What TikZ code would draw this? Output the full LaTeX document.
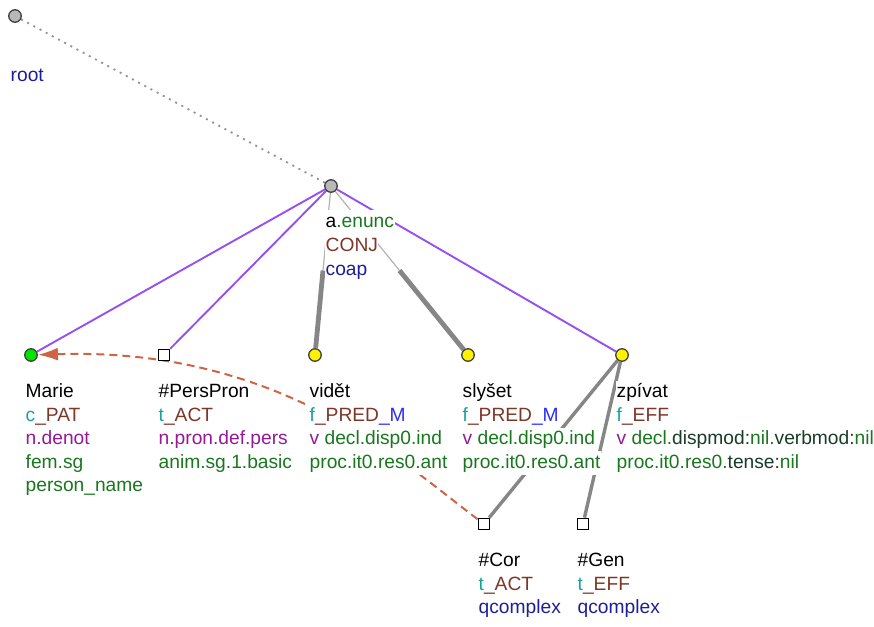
\documentclass[tikz,border=0pt]{standalone}
\usepackage{fontspec}
\setmainfont{Liberation Sans}
\usepackage{tikz}
\usetikzlibrary{arrows.meta,calc,backgrounds}
\usepackage{xcolor}
\definecolor{tfacol}{RGB}{25,160,160}
\definecolor{funccol}{RGB}{125,55,40}
\definecolor{semcol}{RGB}{150,25,150}
\definecolor{gramcol}{RGB}{25,120,30}
\definecolor{darkgram}{RGB}{25,60,40}
\definecolor{typecol}{RGB}{30,30,150}
\definecolor{mcol}{RGB}{45,45,245}
\definecolor{membcol}{RGB}{150,80,240}
\definecolor{corefcol}{RGB}{205,100,70}

\begin{document}
\begin{tikzpicture}[
    x=1pt, y=-1pt,
    font=\fontsize{19.2}{23.5}\selectfont,
    >={Latex[length=20pt,width=13pt]},
    gnode/.style={circle, draw=black!75, line width=1.3pt, fill=gray!55, minimum size=12.5pt, inner sep=0pt},
    ynode/.style={gnode, fill=yellow},
    sqnode/.style={rectangle, draw=black, line width=1.3pt, fill=white, minimum size=11.5pt, inner sep=0pt},
    lbl/.style={fill=white, inner xsep=0.5pt, inner ysep=1.75pt, text height=15pt, text depth=5pt, anchor=base west},
    rootedge/.style={gray!85, line width=1.8pt, dash pattern=on 2pt off 5pt},
    memb/.style={membcol, line width=1.9pt},
    conjthin/.style={gray!60, line width=1.2pt},
    conjthick/.style={gray!95, line width=4.8pt},
    dep/.style={gray!95, line width=3.4pt},
    coref/.style={->, corefcol, line width=2pt, dash pattern=on 8pt off 5pt},
  ]
    \useasboundingbox (0,0) rectangle (874,626);

    \node[gnode] (root) at (15,16) {};
    \node[gnode] (coap) at (331,186) {};
    \node[gnode, fill=green!90!black] (marie) at (31,355) {};
    \node[sqnode] (perspron) at (164,355) {};
    \node[ynode] (videt) at (315,355) {};
    \node[ynode] (slyset) at (468,355) {};
    \node[ynode] (zpivat) at (622,355) {};
    \node[sqnode] (cor) at (484,524) {};
    \node[sqnode] (gen) at (583,524) {};

    \coordinate (videtmid) at ($(coap)!0.5!(videt)$);
    \coordinate (slysetmid) at ($(coap)!0.5!(slyset)$);

    \begin{scope}[on background layer]
      \draw[rootedge] (root) -- (coap);
      \draw[memb] (coap) -- (marie);
      \draw[memb] (coap) -- (perspron);
      \draw[memb] (coap) -- (zpivat);
      \draw[conjthin] (coap) -- (videtmid);
      \draw[conjthick] (videtmid) -- (videt);
      \draw[conjthin] (coap) -- (slysetmid);
      \draw[conjthick] (slysetmid) -- (slyset);
      \draw[dep] (zpivat) -- (cor);
      \draw[dep] (zpivat) -- (gen);
      \draw[coref] (cor) .. controls +(-80,-60) and +(250,-8) .. (marie);
    \end{scope}

    \node[lbl] (root-l1) at (10,81) {\color{typecol}root};

    \node[lbl] (coap-l1) at ([shift={(-6,41)}]coap) {a{\color{gramcol}.enunc}};
    \node[lbl] (coap-l2) at ([yshift=-24pt]coap-l1.base west) {\color{funccol}CONJ};
    \node[lbl] (coap-l3) at ([yshift=-24pt]coap-l2.base west) {\color{typecol}coap};

    \node[lbl] (marie-l1) at ([shift={(-6,42.7)}]marie) {Marie};
    \node[lbl] (marie-l2) at ([yshift=-23.5pt]marie-l1.base west) {{\color{tfacol}c}{\color{funccol}\_PAT}};
    \node[lbl] (marie-l3) at ([yshift=-23.5pt]marie-l2.base west) {\color{semcol}n.denot};
    \node[lbl] (marie-l4) at ([yshift=-23.5pt]marie-l3.base west) {\color{gramcol}fem.sg};
    \node[lbl] (marie-l5) at ([yshift=-23.5pt]marie-l4.base west) {\color{gramcol}person\_name};

    \node[lbl] (perspron-l1) at ([shift={(-6,42.7)}]perspron) {\#PersPron};
    \node[lbl] (perspron-l2) at ([yshift=-23.5pt]perspron-l1.base west) {{\color{tfacol}t}{\color{funccol}\_ACT}};
    \node[lbl] (perspron-l3) at ([yshift=-23.5pt]perspron-l2.base west) {\color{semcol}n.pron.def.pers};
    \node[lbl] (perspron-l4) at ([yshift=-23.5pt]perspron-l3.base west) {\color{gramcol}anim.sg.1.basic};

    \node[lbl] (videt-l1) at ([shift={(-6,42.7)}]videt) {vidět};
    \node[lbl] (videt-l2) at ([yshift=-23.5pt]videt-l1.base west) {{\color{tfacol}f}{\color{funccol}\_PRED}{\color{mcol}\_M}};
    \node[lbl] (videt-l3) at ([yshift=-23.5pt]videt-l2.base west) {{\color{semcol}v} {\color{gramcol}decl.disp0.ind}};
    \node[lbl] (videt-l4) at ([yshift=-23.5pt]videt-l3.base west) {\color{gramcol}proc.it0.res0.ant};

    \node[lbl] (slyset-l1) at ([shift={(-6,42.7)}]slyset) {slyšet};
    \node[lbl] (slyset-l2) at ([yshift=-23.5pt]slyset-l1.base west) {{\color{tfacol}f}{\color{funccol}\_PRED}{\color{mcol}\_M}};
    \node[lbl] (slyset-l3) at ([yshift=-23.5pt]slyset-l2.base west) {{\color{semcol}v} {\color{gramcol}decl.disp0.ind}};
    \node[lbl] (slyset-l4) at ([yshift=-23.5pt]slyset-l3.base west) {\color{gramcol}proc.it0.res0.ant};

    \node[lbl] (zpivat-l1) at ([shift={(-6,42.7)}]zpivat) {zpívat};
    \node[lbl] (zpivat-l2) at ([yshift=-23.5pt]zpivat-l1.base west) {{\color{tfacol}f}{\color{funccol}\_EFF}};
    \node[lbl] (zpivat-l3) at ([yshift=-23.5pt]zpivat-l2.base west) {{\color{semcol}v} {\color{gramcol}decl.}{\color{darkgram}dispmod:}{\color{gramcol}nil.}{\color{darkgram}verbmod:}{\color{gramcol}nil}};
    \node[lbl] (zpivat-l4) at ([yshift=-23.5pt]zpivat-l3.base west) {{\color{gramcol}proc.it0.res0.}{\color{darkgram}tense:}{\color{gramcol}nil}};

    \node[lbl] (cor-l1) at ([shift={(-6,42.7)}]cor) {\#Cor};
    \node[lbl] (cor-l2) at ([yshift=-23.5pt]cor-l1.base west) {{\color{tfacol}t}{\color{funccol}\_ACT}};
    \node[lbl] (cor-l3) at ([yshift=-23.5pt]cor-l2.base west) {\color{typecol}qcomplex};

    \node[lbl] (gen-l1) at ([shift={(-6,42.7)}]gen) {\#Gen};
    \node[lbl] (gen-l2) at ([yshift=-23.5pt]gen-l1.base west) {{\color{tfacol}t}{\color{funccol}\_EFF}};
    \node[lbl] (gen-l3) at ([yshift=-23.5pt]gen-l2.base west) {\color{typecol}qcomplex};
  \end{tikzpicture}
\end{document}
